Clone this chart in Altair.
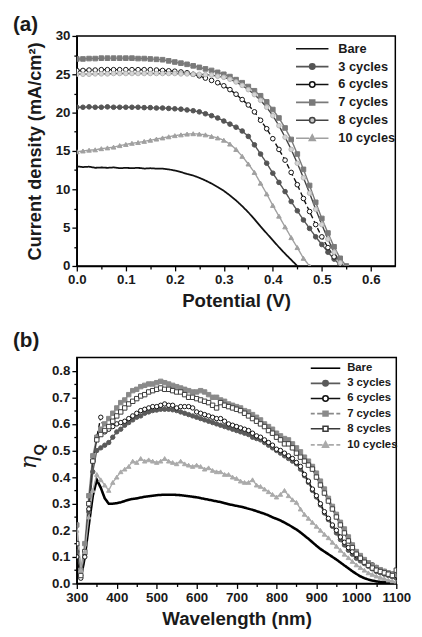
import altair as alt
import pandas as pd

FONT = "Liberation Sans"
TXT = "#1a1a1a"
SERIES = ["Bare", "3 cycles", "6 cycles", "7 cycles", "8 cycles", "10 cycles"]

# ---------------- panel (a): J-V curves (V sampled every 0.0125 V) ----------------
POTENTIAL = [round(i * 0.0125, 4) for i in range(45)]
J_BARE = [13.0, 12.9, 12.95, 12.8, 12.85, 12.8, 12.85, 12.75, 12.8, 12.75, 12.8, 12.7, 12.75,
          12.7, 12.7, 12.6, 12.45, 12.25, 12.0, 11.8, 11.5, 11.15, 10.75, 10.3, 9.8, 9.2, 8.55,
          7.8, 7.0, 6.1, 5.15, 4.25, 3.35, 2.45, 1.6, 0.8, 0.0]
J_3 = [20.7, 20.7, 20.75, 20.7, 20.7, 20.75, 20.7, 20.7, 20.7, 20.7, 20.7, 20.65, 20.65, 20.6,
       20.6, 20.55, 20.5, 20.45, 20.35, 20.25, 20.1, 19.85, 19.6, 19.3, 18.9, 18.5, 18.1, 17.6,
       16.9, 15.8, 14.6, 13.4, 12.1, 10.9, 9.7, 8.4, 7.2, 6.0, 4.9, 3.8, 2.8, 1.8, 0.9, 0.1]
J_6 = [25.5, 25.5, 25.55, 25.55, 25.6, 25.6, 25.6, 25.6, 25.6, 25.6, 25.6, 25.6, 25.6, 25.55,
       25.5, 25.45, 25.4, 25.3, 25.2, 25.0, 24.8, 24.5, 24.2, 23.9, 23.5, 23.0, 22.4, 21.7, 21.0,
       20.1, 19.0, 17.9, 16.6, 15.2, 13.8, 12.2, 10.6, 8.8, 7.1, 5.4, 3.8, 2.4, 1.2, 0.3]
J_7 = [27.0, 27.0, 27.05, 27.05, 27.1, 27.1, 27.1, 27.1, 27.1, 27.1, 27.05, 27.05, 27.0, 26.95,
       26.9, 26.75, 26.6, 26.45, 26.3, 26.1, 25.9, 25.7, 25.5, 25.25, 25.0, 24.7, 24.3, 23.9,
       23.4, 22.85, 22.2, 21.4, 20.4, 19.3, 18.0, 16.5, 14.6, 12.6, 10.5, 8.3, 6.2, 4.3, 2.5,
       1.0, 0.0]
J_8 = [25.0, 25.0, 25.0, 25.05, 25.05, 25.05, 25.1, 25.1, 25.1, 25.1, 25.1, 25.1, 25.1, 25.1,
       25.1, 25.1, 25.1, 25.05, 25.05, 25.0, 25.0, 24.95, 24.9, 24.75, 24.6, 24.35, 24.0, 23.55,
       23.0, 22.35, 21.6, 20.7, 19.6, 18.3, 16.8, 15.2, 13.4, 11.5, 9.5, 7.4, 5.4, 3.5, 1.8, 0.4]
J_10 = [14.9, 15.0, 15.1, 15.15, 15.3, 15.4, 15.5, 15.7, 15.85, 16.0, 16.1, 16.25, 16.4, 16.55,
        16.7, 16.85, 17.0, 17.1, 17.2, 17.25, 17.2, 17.1, 16.9, 16.7, 16.4, 15.9, 15.2, 14.3,
        13.3, 12.2, 10.8, 9.4, 7.9, 6.5, 5.1, 3.7, 2.4, 1.0, 0.0]

# ---------------- panel (b): quantum efficiency (every 10 nm) ----------------
WAVELENGTH = list(range(300, 1101, 10))
Q_BARE = [0.10, 0.02, 0.10, 0.22, 0.33, 0.39, 0.36, 0.32, 0.30, 0.30,
          0.302, 0.305, 0.31, 0.315, 0.318, 0.32, 0.323, 0.326, 0.328, 0.330,
          0.332, 0.333, 0.334, 0.334, 0.334, 0.333, 0.332, 0.330, 0.328, 0.326,
          0.324, 0.321, 0.318, 0.315, 0.312, 0.309, 0.306, 0.302, 0.298, 0.295,
          0.292, 0.289, 0.285, 0.281, 0.277, 0.272, 0.267, 0.262, 0.256, 0.249,
          0.243, 0.237, 0.229, 0.221, 0.212, 0.203, 0.192, 0.180, 0.168, 0.155,
          0.142, 0.130, 0.120, 0.110, 0.100, 0.090, 0.079, 0.068, 0.057, 0.046,
          0.036, 0.027, 0.020, 0.015, 0.011, 0.008, 0.006, 0.005, 0.004, 0.003,
          0.002]
Q_3 = [0.12, 0.03, 0.11, 0.27, 0.42, 0.50, 0.51, 0.52, 0.53, 0.55,
       0.57, 0.58, 0.595, 0.605, 0.615, 0.625, 0.63, 0.64, 0.645, 0.65,
       0.652, 0.655, 0.655, 0.655, 0.653, 0.65, 0.645, 0.64, 0.635, 0.63,
       0.625, 0.62, 0.615, 0.61, 0.605, 0.60, 0.595, 0.59, 0.585, 0.58,
       0.575, 0.57, 0.565, 0.56, 0.55, 0.545, 0.54, 0.53, 0.52, 0.51,
       0.50, 0.49, 0.48, 0.47, 0.46, 0.45, 0.43, 0.405, 0.38, 0.35,
       0.325, 0.295, 0.265, 0.24, 0.215, 0.19, 0.165, 0.145, 0.125, 0.11,
       0.095, 0.085, 0.075, 0.065, 0.055, 0.045, 0.04, 0.035, 0.03, 0.025,
       0.02]
Q_6 = [0.10, 0.02, 0.10, 0.28, 0.46, 0.55, 0.625, 0.57, 0.58, 0.59,
       0.60, 0.605, 0.61, 0.62, 0.63, 0.64, 0.65, 0.655, 0.66, 0.665,
       0.665, 0.67, 0.675, 0.67, 0.67, 0.66, 0.665, 0.665, 0.665, 0.66,
       0.645, 0.64, 0.635, 0.63, 0.625, 0.62, 0.62, 0.61, 0.60, 0.595,
       0.59, 0.585, 0.58, 0.575, 0.565, 0.555, 0.55, 0.54, 0.53, 0.52,
       0.505, 0.50, 0.49, 0.48, 0.47, 0.455, 0.44, 0.41, 0.385, 0.355,
       0.33, 0.30, 0.27, 0.245, 0.22, 0.20, 0.175, 0.155, 0.135, 0.12,
       0.105, 0.095, 0.085, 0.075, 0.07, 0.06, 0.05, 0.045, 0.04, 0.035,
       0.03]
Q_7 = [0.22, 0.05, 0.15, 0.33, 0.48, 0.55, 0.58, 0.60, 0.62, 0.64,
       0.66, 0.68, 0.69, 0.71, 0.725, 0.73, 0.74, 0.745, 0.75, 0.75,
       0.755, 0.76, 0.755, 0.75, 0.745, 0.74, 0.735, 0.73, 0.725, 0.72,
       0.72, 0.725, 0.72, 0.71, 0.70, 0.70, 0.69, 0.685, 0.675, 0.67,
       0.665, 0.66, 0.65, 0.645, 0.635, 0.625, 0.615, 0.60, 0.59, 0.58,
       0.565, 0.555, 0.545, 0.54, 0.525, 0.51, 0.495, 0.475, 0.46, 0.44,
       0.415, 0.385, 0.355, 0.32, 0.29, 0.26, 0.23, 0.205, 0.175, 0.145,
       0.12, 0.105, 0.09, 0.078, 0.068, 0.06, 0.052, 0.046, 0.04, 0.036,
       0.035]
Q_8 = [0.15, 0.03, 0.12, 0.30, 0.46, 0.54, 0.56, 0.575, 0.59, 0.61,
       0.63, 0.645, 0.66, 0.675, 0.685, 0.695, 0.705, 0.71, 0.72, 0.725,
       0.73, 0.735, 0.73, 0.73, 0.725, 0.72, 0.72, 0.71, 0.70, 0.70,
       0.695, 0.69, 0.685, 0.68, 0.67, 0.66, 0.68, 0.67, 0.665, 0.66,
       0.655, 0.65, 0.64, 0.63, 0.62, 0.61, 0.60, 0.59, 0.575, 0.565,
       0.55, 0.54, 0.525, 0.525, 0.51, 0.49, 0.475, 0.46, 0.445, 0.43,
       0.40, 0.37, 0.34, 0.31, 0.28, 0.25, 0.22, 0.19, 0.16, 0.135,
       0.11, 0.095, 0.08, 0.068, 0.058, 0.05, 0.045, 0.04, 0.035, 0.03,
       0.05]
Q_10 = [0.20, 0.05, 0.12, 0.25, 0.35, 0.41, 0.39, 0.37, 0.35, 0.38,
        0.40, 0.42, 0.43, 0.44, 0.46, 0.455, 0.47, 0.46, 0.465, 0.46,
        0.455, 0.46, 0.47, 0.46, 0.455, 0.45, 0.46, 0.45, 0.445, 0.44,
        0.445, 0.44, 0.43, 0.435, 0.425, 0.42, 0.42, 0.41, 0.41, 0.40,
        0.395, 0.385, 0.38, 0.38, 0.39, 0.37, 0.365, 0.355, 0.345, 0.335,
        0.325, 0.335, 0.35, 0.33, 0.315, 0.305, 0.28, 0.26, 0.245, 0.23,
        0.215, 0.20, 0.185, 0.172, 0.155, 0.14, 0.125, 0.11, 0.097, 0.083,
        0.07, 0.06, 0.05, 0.04, 0.034, 0.028, 0.023, 0.018, 0.013, 0.009,
        0.006]

for arr in (Q_BARE, Q_3, Q_6, Q_7, Q_8, Q_10):
    assert len(arr) == len(WAVELENGTH), len(arr)

# tick positions (major + minor)
A_XTICKS = [round(i * 0.05, 2) for i in range(13)]
A_YTICKS = [i * 2.5 for i in range(13)]
B_XTICKS = list(range(300, 1101, 50))
B_YTICKS = [round(i * 0.05, 2) for i in range(17)]


def long_table(xs, table, xname, yname):
    rows = []
    for name, vals in table:
        for xv, yv in zip(xs, vals):
            rows.append({"series": name, xname: xv, yname: yv})
    return pd.DataFrame(rows)


df_a = long_table(POTENTIAL, list(zip(SERIES, [J_BARE, J_3, J_6, J_7, J_8, J_10])), "V", "J")
df_b = long_table(WAVELENGTH, list(zip(SERIES, [Q_BARE, Q_3, Q_6, Q_7, Q_8, Q_10])), "wl", "q")


def make_axis(values, test, fmt, title, title_size=19, title_pad=6):
    return alt.Axis(
        values=values, title=title,
        labelExpr=f"({test}) ? format(datum.value, '{fmt}') : ''",
        tickSize={"condition": {"test": test, "value": 5}, "value": 3},
        labelFont=FONT, labelFontSize=13.5, labelFontWeight="bold", labelColor=TXT,
        labelPadding=2, labelFlush=False, labelOverlap=False,
        titleFont=FONT, titleFontSize=title_size, titleFontWeight="bold", titleColor=TXT,
        titlePadding=title_pad,
        domainColor="#000", domainWidth=1.4, tickColor="#000", tickWidth=1.3, grid=False,
    )


def glyph(half, marker, dashed=False, gap=0.55):
    if dashed:
        line = (f"M{-half},0H{-half + 0.8}M{-half + 1.3},0H{-gap}"
                f"M{gap},0H{half - 1.3}M{half - 0.8},0H{half}")
    else:
        line = f"M{-half},0H{-gap}M{gap},0H{half}"
    return line + marker


CIRC = "M-0.55,0A0.55,0.55 0 1,0 0.55,0A0.55,0.55 0 1,0 -0.55,0Z"
SQR = "M-0.5,-0.5H0.5V0.5H-0.5Z"
TRI = "M0,-0.65L0.6,0.45H-0.6Z"

ONE_ROW = alt.Data(values=[{"k": 0}])


def label_text(text, x, y, size, weight="bold", font=FONT, style="normal", angle=0,
               align="left", baseline="top"):
    return alt.Chart(ONE_ROW).mark_text(
        text=text, font=font, fontSize=size, fontWeight=weight, fontStyle=style,
        angle=angle, align=align, baseline=baseline, color=TXT
    ).encode(x=alt.value(x), y=alt.value(y))


def panel(df, xf, yf, xaxis, yaxis, xdom, ydom, w, h, st, extra=()):
    x = alt.X(f"{xf}:Q", scale=alt.Scale(domain=xdom, nice=False, zero=False), axis=xaxis)
    y = alt.Y(f"{yf}:Q", scale=alt.Scale(domain=ydom, nice=False, zero=False), axis=yaxis)
    base = alt.Chart(df)
    lines = base.mark_line(clip=True).encode(
        x=x, y=y,
        stroke=alt.Stroke("series:N", scale=alt.Scale(domain=SERIES, range=st["line"]), legend=None),
        strokeDash=alt.StrokeDash("series:N", scale=alt.Scale(domain=SERIES, range=st["dash"]), legend=None),
        strokeWidth=alt.condition("datum.series == 'Bare'", alt.value(st["bare_w"]), alt.value(1.4)),
    )
    pts = base.transform_filter("datum.series != 'Bare'").mark_point(
        filled=True, opacity=1, size=st["size"], strokeWidth=1, clip=True
    ).encode(
        x=x, y=y,
        shape=alt.Shape("series:N", scale=alt.Scale(domain=SERIES, range=st["shape"]), legend=None),
        fill=alt.Fill("series:N", scale=alt.Scale(domain=SERIES, range=st["fill"]), legend=None),
        stroke=alt.Stroke("series:N", scale=alt.Scale(domain=SERIES, range=st["pstroke"]), legend=None),
    )
    lg = dict(orient="none", legendX=st["lx"], legendY=st["ly"], title=None, symbolSize=100,
              symbolStrokeWidth=1.6, labelFont=FONT, labelFontSize=st["lfont"],
              labelFontWeight="bold", labelColor=TXT, rowPadding=st["lrow"],
              labelOffset=st["loff"], padding=0)
    leg = base.transform_filter("false").mark_point(filled=True, opacity=1).encode(
        x=x, y=y,
        shape=alt.Shape("series:N", scale=alt.Scale(domain=SERIES, range=st["lpath"]), legend=alt.Legend(**lg)),
        fill=alt.Fill("series:N", scale=alt.Scale(domain=SERIES, range=st["lfill"]), legend=alt.Legend(**lg)),
        stroke=alt.Stroke("series:N", scale=alt.Scale(domain=SERIES, range=st["lstroke"]), legend=alt.Legend(**lg)),
    )
    return alt.layer(lines, pts, leg, *extra).resolve_scale(
        shape="independent", fill="independent", stroke="independent"
    ).properties(width=w, height=h)


style_a = dict(
    line=["#111111", "#555555", "#111111", "#7a7a7a", "#444444", "#a0a0a0"],
    dash=[[1, 0], [1, 0], [5, 3], [1, 0], [1, 0], [1, 0]],
    bare_w=1.8, size=22,
    shape=["circle", "circle", "circle", "square", "circle", "triangle-up"],
    fill=["#111111", "#555555", "#ffffff", "#7a7a7a", "#d5d5d5", "#a0a0a0"],
    pstroke=["#111111", "#555555", "#111111", "#7a7a7a", "#b5b5b5", "#a0a0a0"],
    lpath=["M-3.3,0H3.3", glyph(3.3, CIRC), glyph(3.3, CIRC), glyph(3.3, SQR, gap=0.5),
           glyph(3.3, CIRC), glyph(3.3, TRI, gap=0.6)],
    lfill=["transparent", "#555555", "#ffffff", "#7a7a7a", "#c8c8c8", "#a0a0a0"],
    lstroke=["#111111", "#555555", "#111111", "#7a7a7a", "#444444", "#a0a0a0"],
    lx=233, ly=6.5, lfont=13, lrow=4.2, loff=20,
)

style_b = dict(
    line=["#000000", "#5a5a5a", "#111111", "#8a8a8a", "#3a3a3a", "#aaaaaa"],
    dash=[[1, 0], [1, 0], [1, 0], [4, 2], [1, 0], [4, 2]],
    bare_w=2.6, size=20,
    shape=["circle", "circle", "circle", "square", "square", "triangle-up"],
    fill=["#000000", "#5a5a5a", "#ffffff", "#8a8a8a", "#ffffff", "#aaaaaa"],
    pstroke=["#000000", "#5a5a5a", "#111111", "#8a8a8a", "#3a3a3a", "#aaaaaa"],
    lpath=["M-3,0H3", glyph(3.0, CIRC), glyph(3.0, CIRC), glyph(3.0, SQR, dashed=True, gap=0.5),
           glyph(3.0, SQR, gap=0.5), glyph(3.0, TRI, dashed=True, gap=0.6)],
    lfill=["transparent", "#5a5a5a", "#ffffff", "#8a8a8a", "#ffffff", "#aaaaaa"],
    lstroke=["#000000", "#5a5a5a", "#111111", "#8a8a8a", "#3a3a3a", "#aaaaaa"],
    lx=247, ly=5, lfont=11.5, lrow=3.4, loff=16,
)

tag_a = label_text("(a)", -65, -22, 21)
tag_b = label_text("(b)", -65, -28, 21)
eta = label_text("η", -48.5, 107, 23, weight="normal", font="DejaVu Serif", style="italic",
                 angle=270, align="center", baseline="middle")
sub_q = label_text("Q", -38.5, 94, 15, angle=270, align="center", baseline="middle")

panel_a = panel(
    df_a, "V", "J",
    make_axis(A_XTICKS, "abs(datum.value*10 - round(datum.value*10)) < 0.001", ".1f",
              "Potential (V)", title_size=19, title_pad=6),
    make_axis(A_YTICKS, "datum.value % 5 == 0", "d", "Current density (mA/cm²)",
              title_size=18.5, title_pad=11),
    [0, 0.65], [0, 30], 324, 234, style_a, extra=(tag_a,),
)
panel_b = panel(
    df_b, "wl", "q",
    make_axis(B_XTICKS, "datum.value % 100 == 0", "d", "Wavelength (nm)",
              title_size=19, title_pad=6),
    make_axis(B_YTICKS, "abs(datum.value*10 - round(datum.value*10)) < 0.001", ".1f", None),
    [300, 1100], [0, 0.85], 325, 230, style_b, extra=(tag_b, eta, sub_q),
)

chart = alt.vconcat(panel_a, panel_b, spacing=17).properties(
    padding={"left": 4, "top": 0, "right": 2, "bottom": 2}
).configure_view(stroke="#000000", strokeWidth=1.5)

chart.save("out.html", embed_options={"renderer": "svg", "actions": False})
